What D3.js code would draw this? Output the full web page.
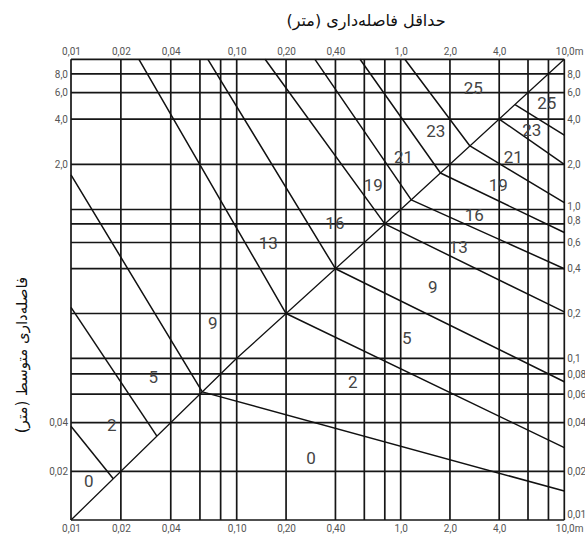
<!DOCTYPE html>
<html>
<head>
<meta charset="utf-8">
<script src="https://cdn.jsdelivr.net/npm/d3@7"></script>
<style>
  body { margin: 0; background: #fff; }
  .tick text { font-family: Roboto, sans-serif; font-size: 10px; fill: #555; }
</style>
</head>
<body>
<div id="chart"></div>
<script>
// grid lines (m), same on both axes
const gridVals = [0.01, 0.02, 0.04, 0.06, 0.08, 0.1, 0.2, 0.4, 0.6, 0.8, 1, 2, 4, 6, 8, 10];

// tick labels
const xLabelVals = [0.01, 0.02, 0.04, 0.1, 0.2, 0.4, 1, 2, 4, 10];
const xLabelText = ["0,01", "0,02", "0,04", "0,10", "0,20", "0,40", "1,0", "2,0", "4,0", "10,0m"];
const yLeftVals = [8, 6, 4, 2, 0.04, 0.02];
const yLeftText = ["8,0", "6,0", "4,0", "2,0", "0,04", "0,02"];
const yRightVals = [8, 6, 4, 2, 1, 0.8, 0.6, 0.4, 0.2, 0.1, 0.08, 0.06, 0.04, 0.02, 0.01];
const yRightText = ["8,0", "6,0", "4,0", "2,0", "1,0", "0,8", "0,6", "0,4", "0,2", "0,1", "0,08", "0,06", "0,04", "0,02", "0,01"];

// diagonal (min = mean)
const diagonal = [0.01, 0.1, 1, 10];

// rating boundaries: each bends where it meets the diagonal
const bendVals   = [0.018, 0.033, 0.062, 0.2, 0.4, 0.8, 1.16, 1.75, 2.65, 4.0, 5.0];
// start of the steep part above the diagonal [x, y] (left or top edge)
const upperStart = [[0.01, 0.038], [0.01, 0.22], [0.01, 1.7], [0.0257, 10], [0.067, 10],
                    [0.149, 10], [0.30, 10], [0.565, 10], [1.06, 10], null, null];
// y where the flat part below the diagonal reaches the right edge (x = 10)
const lowerEndY  = [null, null, 0.0151, 0.028, 0.0716, 0.205, 0.40, 0.70, 1.11, 2.0, 3.13];

// rating numbers in the zones
const ratingText = ["0", "2", "5", "9", "13", "16", "19", "21", "23", "25",
                    "25", "23", "21", "19", "16", "13", "9", "5", "2", "0"];
const ratingX = [0.0128, 0.0176, 0.0314, 0.0716, 0.156, 0.397, 0.681, 1.04, 1.64, 2.78,
                 7.81, 6.32, 4.88, 3.95, 2.82, 2.25, 1.57, 1.09, 0.51, 0.284];
const ratingY = [0.0175, 0.0387, 0.077, 0.172, 0.593, 0.808, 1.456, 2.25, 3.33, 6.41,
                 5.09, 3.38, 2.25, 1.456, 0.918, 0.562, 0.303, 0.136, 0.0716, 0.0242];

const W = 585, H = 535;
const svg = d3.select("#chart").append("svg")
  .attr("width", W).attr("height", H);

// the printed chart is not perfectly logarithmic, so map each decade
const x = d3.scaleLog()
  .domain([0.01, 0.1, 1, 10])
  .range([71, 236.7, 400.7, 564.3]);
const y = d3.scaleLog()
  .domain([0.01, 0.1, 1, 10])
  .range([520, 358.3, 209.5, 59.3]);

const pLeft = x(0.01), pRight = x(10), pTop = y(10), pBottom = y(0.01);

// grid
svg.append("g")
  .selectAll("line")
  .data(gridVals)
  .enter().append("line")
  .attr("x1", d => x(d)).attr("x2", d => x(d))
  .attr("y1", pTop).attr("y2", pBottom)
  .attr("stroke", "#161616").attr("stroke-width", 1.7);

svg.append("g")
  .selectAll("line")
  .data(gridVals)
  .enter().append("line")
  .attr("y1", d => y(d)).attr("y2", d => y(d))
  .attr("x1", pLeft).attr("x2", pRight)
  .attr("stroke", "#161616").attr("stroke-width", 1.7);

// axes labels
svg.append("g")
  .attr("transform", `translate(0,${pTop})`)
  .call(d3.axisTop(x).tickValues(xLabelVals).tickFormat((d, i) => xLabelText[i]).tickSize(0).tickPadding(4))
  .call(g => g.select(".domain").remove());

svg.append("g")
  .attr("transform", `translate(0,${pBottom})`)
  .call(d3.axisBottom(x).tickValues(xLabelVals).tickFormat((d, i) => xLabelText[i]).tickSize(0).tickPadding(5))
  .call(g => g.select(".domain").remove());

svg.selectAll(".tick text")
  .filter(d => d === 10)
  .attr("text-anchor", "start")
  .attr("x", -9);

svg.append("g")
  .attr("transform", `translate(${pLeft},0)`)
  .call(d3.axisLeft(y).tickValues(yLeftVals).tickFormat((d, i) => yLeftText[i]).tickSize(0).tickPadding(3))
  .call(g => g.select(".domain").remove());

const rightAxis = svg.append("g")
  .attr("transform", `translate(${pRight},0)`)
  .call(d3.axisRight(y).tickValues(yRightVals).tickFormat((d, i) => yRightText[i]).tickSize(0).tickPadding(3))
  .call(g => g.select(".domain").remove());
// crowded labels sit a bit higher
rightAxis.selectAll(".tick text")
  .filter(d => d === 1 || d === 0.8)
  .attr("dy", "-0.05em");
rightAxis.selectAll(".tick text")
  .filter(d => d === 0.01)
  .attr("dy", "-0.25em");

// diagonal
const line = d3.line().x(d => x(d[0])).y(d => y(d[1]));
svg.append("path")
  .datum(diagonal.map(v => [v, v]))
  .attr("d", line)
  .attr("fill", "none")
  .attr("stroke", "#111")
  .attr("stroke-width", 1.3);

// rating boundaries
const boundaries = bendVals.map((b, i) => {
  const pts = [];
  if (upperStart[i]) pts.push(upperStart[i]);
  pts.push([b, b]);
  if (lowerEndY[i] !== null) pts.push([10, lowerEndY[i]]);
  return pts;
});

svg.append("g")
  .selectAll("path")
  .data(boundaries)
  .enter().append("path")
  .attr("d", line)
  .attr("fill", "none")
  .attr("stroke", "#111")
  .attr("stroke-width", 1.5)
  .attr("stroke-linejoin", "round");

// ratings
svg.append("g")
  .selectAll("text")
  .data(ratingText)
  .enter().append("text")
  .attr("x", (d, i) => x(ratingX[i]))
  .attr("y", (d, i) => y(ratingY[i]))
  .attr("text-anchor", "middle")
  .attr("dominant-baseline", "central")
  .attr("font-family", "Roboto, sans-serif")
  .attr("font-size", 17)
  .attr("fill", "#444")
  .text(d => d);

// titles
svg.append("text")
  .attr("x", 366).attr("y", 26)
  .attr("text-anchor", "middle")
  .attr("font-family", "'DejaVu Sans', sans-serif")
  .attr("font-size", 16)
  .attr("fill", "#111")
  .text("حداقل فاصله\u200cداری (متر)");

svg.append("text")
  .attr("transform", "translate(27,355) rotate(-90)")
  .attr("text-anchor", "middle")
  .attr("font-family", "'DejaVu Sans', sans-serif")
  .attr("font-size", 15)
  .attr("fill", "#111")
  .text("فاصله\u200cداری متوسط (متر)");
</script>
</body>
</html>
